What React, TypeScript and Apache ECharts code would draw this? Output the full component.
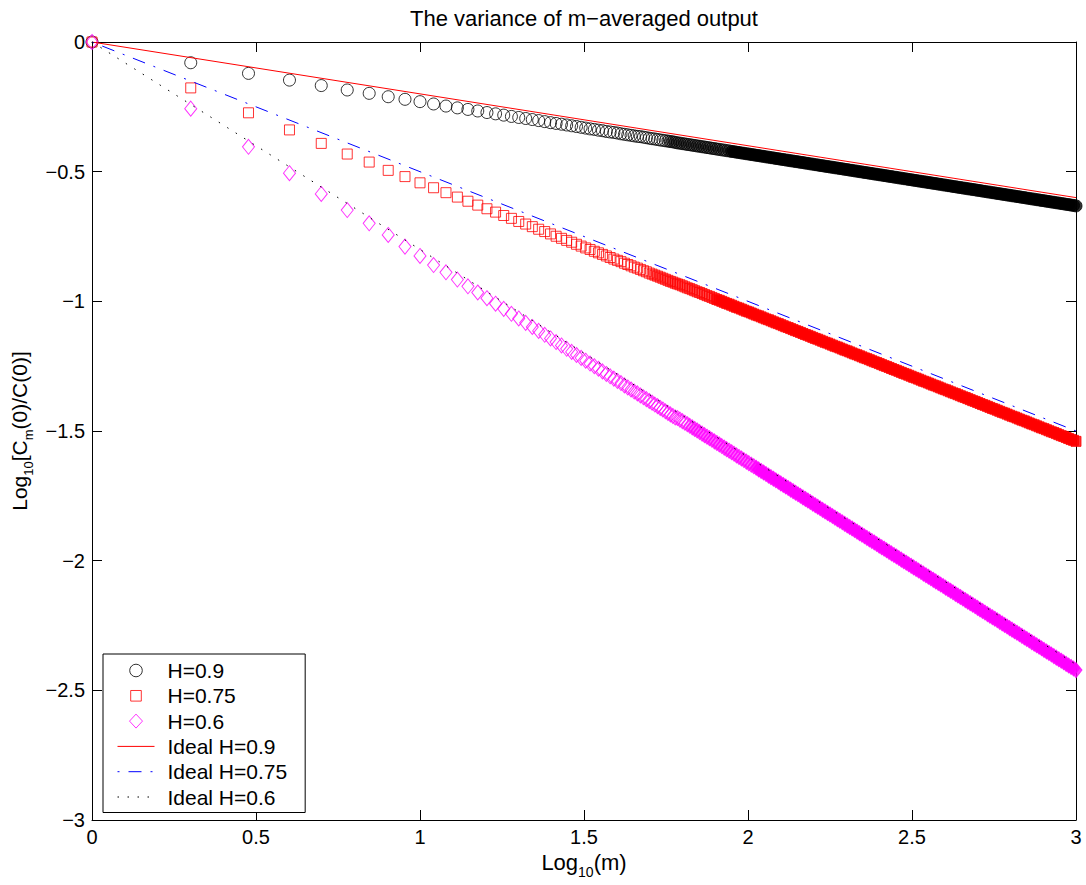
import React, { useEffect, useRef } from 'react';
import * as echarts from 'echarts';

const FONT = '"Liberation Sans", Arial, Helvetica, sans-serif';

// m = 1..60: markers that are still individually visible
const mNear: number[] = Array.from({ length: 60 }, (_, i) => i + 1);
// sampling positions along log10(m) where the markers merge into a band
const logFar: number[] = Array.from({ length: 163 }, (_, k) => 1.785 + 0.0075 * k);

const seriesNames = ['H=0.9', 'H=0.75', 'H=0.6', 'Ideal H=0.9', 'Ideal H=0.75', 'Ideal H=0.6'];

// H = 0.9 (circles)
const h09Near = [0, -0.080, -0.121, -0.147, -0.168, -0.185, -0.198, -0.211, -0.221, -0.230,
  -0.239, -0.247, -0.254, -0.260, -0.266, -0.272, -0.277, -0.282, -0.287, -0.291,
  -0.295, -0.299, -0.303, -0.307, -0.311, -0.314, -0.317, -0.320, -0.323, -0.326,
  -0.329, -0.332, -0.335, -0.337, -0.340, -0.342, -0.345, -0.347, -0.349, -0.351,
  -0.354, -0.356, -0.358, -0.360, -0.362, -0.364, -0.365, -0.367, -0.369, -0.371,
  -0.373, -0.374, -0.376, -0.378, -0.379, -0.381, -0.382, -0.384, -0.385, -0.387];
const h09Far = [-0.389, -0.390, -0.392, -0.393, -0.395, -0.396, -0.398, -0.399, -0.401, -0.402,
  -0.404, -0.405, -0.407, -0.408, -0.410, -0.411, -0.413, -0.414, -0.416, -0.417,
  -0.419, -0.420, -0.422, -0.423, -0.425, -0.426, -0.428, -0.429, -0.431, -0.432,
  -0.434, -0.435, -0.437, -0.438, -0.440, -0.441, -0.443, -0.444, -0.446, -0.447,
  -0.449, -0.450, -0.452, -0.453, -0.455, -0.456, -0.458, -0.459, -0.461, -0.462,
  -0.464, -0.465, -0.467, -0.468, -0.470, -0.471, -0.473, -0.474, -0.476, -0.477,
  -0.479, -0.480, -0.482, -0.483, -0.485, -0.486, -0.488, -0.489, -0.491, -0.492,
  -0.494, -0.495, -0.497, -0.498, -0.500, -0.501, -0.503, -0.504, -0.506, -0.507,
  -0.509, -0.510, -0.512, -0.513, -0.515, -0.516, -0.518, -0.519, -0.521, -0.522,
  -0.524, -0.525, -0.527, -0.528, -0.530, -0.531, -0.533, -0.534, -0.536, -0.537,
  -0.539, -0.540, -0.542, -0.543, -0.545, -0.546, -0.548, -0.549, -0.551, -0.552,
  -0.554, -0.555, -0.557, -0.558, -0.560, -0.561, -0.563, -0.564, -0.566, -0.567,
  -0.569, -0.570, -0.572, -0.573, -0.575, -0.576, -0.578, -0.579, -0.581, -0.582,
  -0.584, -0.585, -0.587, -0.588, -0.590, -0.591, -0.593, -0.594, -0.596, -0.597,
  -0.599, -0.600, -0.602, -0.603, -0.605, -0.606, -0.608, -0.609, -0.611, -0.612,
  -0.614, -0.615, -0.617, -0.618, -0.620, -0.621, -0.623, -0.624, -0.626, -0.627,
  -0.629, -0.630, -0.632];

// H = 0.75 (squares)
const h075Near = [0, -0.177, -0.273, -0.339, -0.391, -0.432, -0.463, -0.495, -0.519, -0.543,
  -0.562, -0.581, -0.598, -0.614, -0.629, -0.643, -0.656, -0.669, -0.680, -0.692,
  -0.702, -0.712, -0.722, -0.731, -0.740, -0.749, -0.757, -0.765, -0.772, -0.780,
  -0.787, -0.794, -0.800, -0.807, -0.813, -0.819, -0.825, -0.831, -0.837, -0.842,
  -0.847, -0.853, -0.858, -0.863, -0.868, -0.872, -0.877, -0.882, -0.886, -0.891,
  -0.895, -0.899, -0.903, -0.907, -0.911, -0.915, -0.919, -0.923, -0.926, -0.930];
const h075Far = [-0.933, -0.936, -0.940, -0.944, -0.948, -0.951, -0.955, -0.959,
  -0.963, -0.966, -0.970, -0.974, -0.978, -0.981, -0.985, -0.989,
  -0.993, -0.996, -1.000, -1.004, -1.008, -1.011, -1.015, -1.019,
  -1.023, -1.026, -1.030, -1.034, -1.038, -1.041, -1.045, -1.049,
  -1.053, -1.056, -1.060, -1.064, -1.068, -1.071, -1.075, -1.079,
  -1.083, -1.086, -1.090, -1.094, -1.098, -1.101, -1.105, -1.109,
  -1.113, -1.116, -1.120, -1.124, -1.128, -1.131, -1.135, -1.139,
  -1.143, -1.146, -1.150, -1.154, -1.158, -1.161, -1.165, -1.169,
  -1.173, -1.176, -1.180, -1.184, -1.188, -1.191, -1.195, -1.199,
  -1.203, -1.206, -1.210, -1.214, -1.218, -1.221, -1.225, -1.229,
  -1.233, -1.236, -1.240, -1.244, -1.248, -1.251, -1.255, -1.259,
  -1.263, -1.266, -1.270, -1.274, -1.278, -1.281, -1.285, -1.289,
  -1.293, -1.296, -1.300, -1.304, -1.308, -1.311, -1.315, -1.319,
  -1.323, -1.326, -1.330, -1.334, -1.338, -1.341, -1.345, -1.349,
  -1.353, -1.356, -1.360, -1.364, -1.368, -1.371, -1.375, -1.379,
  -1.383, -1.386, -1.390, -1.394, -1.398, -1.401, -1.405, -1.409,
  -1.413, -1.416, -1.420, -1.424, -1.428, -1.431, -1.435, -1.439,
  -1.443, -1.446, -1.450, -1.454, -1.458, -1.461, -1.465, -1.469,
  -1.473, -1.476, -1.480, -1.484, -1.488, -1.491, -1.495, -1.499,
  -1.503, -1.506, -1.510, -1.514, -1.518, -1.521, -1.525, -1.529,
  -1.533, -1.536, -1.540];

// H = 0.6 (diamonds)
const h06Near = [0, -0.257, -0.404, -0.506, -0.586, -0.648, -0.699, -0.744, -0.789, -0.825,
  -0.860, -0.888, -0.916, -0.942, -0.966, -0.988, -1.009, -1.029, -1.048, -1.066,
  -1.083, -1.099, -1.114, -1.129, -1.143, -1.157, -1.170, -1.183, -1.195, -1.207,
  -1.218, -1.229, -1.240, -1.250, -1.260, -1.270, -1.280, -1.289, -1.298, -1.307,
  -1.315, -1.324, -1.332, -1.340, -1.348, -1.355, -1.363, -1.370, -1.377, -1.384,
  -1.391, -1.398, -1.404, -1.411, -1.417, -1.424, -1.430, -1.436, -1.442, -1.448];
const h06Far = [-1.450, -1.456, -1.462, -1.468, -1.474, -1.480, -1.486, -1.492, -1.498, -1.504,
  -1.510, -1.516, -1.522, -1.528, -1.534, -1.540, -1.546, -1.552, -1.558, -1.564,
  -1.570, -1.576, -1.582, -1.588, -1.594, -1.600, -1.606, -1.612, -1.618, -1.624,
  -1.630, -1.636, -1.642, -1.648, -1.654, -1.660, -1.666, -1.672, -1.678, -1.684,
  -1.690, -1.696, -1.702, -1.708, -1.714, -1.720, -1.726, -1.732, -1.738, -1.744,
  -1.750, -1.756, -1.762, -1.768, -1.774, -1.780, -1.786, -1.792, -1.798, -1.804,
  -1.810, -1.816, -1.822, -1.828, -1.834, -1.840, -1.846, -1.852, -1.858, -1.864,
  -1.870, -1.876, -1.882, -1.888, -1.894, -1.900, -1.906, -1.912, -1.918, -1.924,
  -1.930, -1.936, -1.942, -1.948, -1.954, -1.960, -1.966, -1.972, -1.978, -1.984,
  -1.990, -1.996, -2.002, -2.008, -2.014, -2.020, -2.026, -2.032, -2.038, -2.044,
  -2.050, -2.056, -2.062, -2.068, -2.074, -2.080, -2.086, -2.092, -2.098, -2.104,
  -2.110, -2.116, -2.122, -2.128, -2.134, -2.140, -2.146, -2.152, -2.158, -2.164,
  -2.170, -2.176, -2.182, -2.188, -2.194, -2.200, -2.206, -2.212, -2.218, -2.224,
  -2.230, -2.236, -2.242, -2.248, -2.254, -2.260, -2.266, -2.272, -2.278, -2.284,
  -2.290, -2.296, -2.302, -2.308, -2.314, -2.320, -2.326, -2.332, -2.338, -2.344,
  -2.350, -2.356, -2.362, -2.368, -2.374, -2.380, -2.386, -2.392, -2.398, -2.404,
  -2.410, -2.416, -2.422];

// Ideal lines: log10 Cm(0)/C(0) = (2H-2) log10(m)
const idealX = [0, 3];
const ideal09 = [0, -0.6];
const ideal075 = [0, -1.5];
const ideal06 = [0, -2.4];

const logM = [...mNear.map((m) => Math.log10(m)), ...logFar];

// Hollow markers that overlap so densely that they print as a (half-)solid band.
const pts = (ys: number[], rgb: string, solidFrom: number) =>
  logM.map((x, i) => {
    if (x >= solidFrom) return { value: [x, ys[i]], itemStyle: { color: `rgb(${rgb})` } };
    if (x >= solidFrom - 0.2) return { value: [x, ys[i]], itemStyle: { color: `rgba(${rgb},0.35)` } };
    return [x, ys[i]];
  });
const linePts = (ys: number[]) => idealX.map((x, i) => [x, ys[i]]);

const minus = (v: number) => (v === 0 ? '0' : String(v).replace('-', '\u2212'));

const ICON_CIRCLE = 'path://M0,0M15,15M13.8,7.5A6.3,6.3,0,1,1,1.2,7.5A6.3,6.3,0,1,1,13.8,7.5Z';
const ICON_SQUARE = 'path://M0,0M15,15M2.2,2.2L12.8,2.2L12.8,12.8L2.2,12.8Z';
const ICON_DIAMOND = 'path://M0,0M15,15M7.5,0.5L14,7.5L7.5,14.5L1,7.5Z';

export default function App() {
  const ref = useRef<HTMLDivElement>(null);
  useEffect(() => {
    if (!ref.current) return;
    const chart = echarts.init(ref.current, null, { renderer: 'svg' });
    const axisCommon = {
      type: 'value' as const,
      axisLine: { show: true, onZero: false, lineStyle: { color: '#000', width: 1 } },
      axisTick: { show: true, inside: true, length: 10, lineStyle: { color: '#000', width: 1 } },
      splitLine: { show: false },
      minorTick: { show: false },
    };
    const labelStyle = { color: '#000', fontSize: 20, fontFamily: FONT };
    const richX = {
      a: { fontSize: 22, fontFamily: FONT, color: '#000' },
      s: { fontSize: 14, fontFamily: FONT, color: '#000', padding: [19, 0, 0, 0] },
    };
    const richY = {
      a: { fontSize: 21, fontFamily: FONT, color: '#000' },
      s: { fontSize: 13, fontFamily: FONT, color: '#000', padding: [18, 0, 0, 0] },
    };
    const hideSymbol = { color: 'rgba(0,0,0,0)', borderColor: 'rgba(0,0,0,0)', borderWidth: 0 };
    chart.setOption({
      animation: false,
      backgroundColor: '#fff',
      textStyle: { fontFamily: FONT },
      title: {
        text: 'The variance of m\u2212averaged output',
        left: 584,
        top: 7,
        padding: 0,
        textAlign: 'center',
        textStyle: { fontSize: 22, fontWeight: 'normal', color: '#000', fontFamily: FONT },
      },
      grid: { left: 92, right: 10, top: 42, bottom: 65, containLabel: false },
      xAxis: [
        {
          ...axisCommon,
          position: 'bottom',
          min: 0,
          max: 3,
          interval: 0.5,
          axisLabel: { ...labelStyle, margin: 7 },
          name: '{a|Log}{s|10}{a|(m)}',
          nameLocation: 'middle',
          nameGap: 17,
          nameTextStyle: { rich: richX },
        },
        {
          ...axisCommon,
          position: 'top',
          min: 0,
          max: 3,
          interval: 0.5,
          axisLabel: { show: false },
        },
      ],
      yAxis: [
        {
          ...axisCommon,
          position: 'left',
          min: -3,
          max: 0,
          interval: 0.5,
          axisLabel: { ...labelStyle, margin: 7, formatter: minus },
          name: '{a|Log}{s|10}{a|[C}{s|m}{a|(0)/C(0)]}',
          nameLocation: 'middle',
          nameGap: 43,
          nameRotate: 90,
          nameTextStyle: { rich: richY },
        },
        {
          ...axisCommon,
          position: 'right',
          min: -3,
          max: 0,
          interval: 0.5,
          axisLabel: { show: false },
        },
      ],
      legend: {
        data: [
          { name: seriesNames[0], icon: ICON_CIRCLE },
          { name: seriesNames[1], icon: ICON_SQUARE },
          { name: seriesNames[2], icon: ICON_DIAMOND },
          { name: seriesNames[3], itemStyle: hideSymbol },
          { name: seriesNames[4], itemStyle: hideSymbol },
          { name: seriesNames[5], itemStyle: hideSymbol },
        ],
        orient: 'vertical',
        left: 103,
        top: 654,
        padding: [6, 18, 5, 14],
        itemWidth: 37,
        itemHeight: 15,
        itemGap: 4.3,
        selectedMode: false,
        symbolKeepAspect: true,
        borderColor: '#000',
        borderWidth: 1,
        backgroundColor: '#fff',
        itemStyle: { borderWidth: 1 },
        lineStyle: { width: 1 },
        textStyle: { fontSize: 21, color: '#000', fontFamily: FONT, lineHeight: 20, padding: [0, 0, 0, 8] },
      },
      series: [
        {
          name: seriesNames[0],
          type: 'scatter',
          symbol: 'circle',
          symbolSize: 12,
          clip: false,
          itemStyle: { color: 'rgba(0,0,0,0)', borderColor: '#000000', borderWidth: 1 },
          data: pts([...h09Near, ...h09Far], '0,0,0', 1.95),
        },
        {
          name: seriesNames[1],
          type: 'scatter',
          symbol: 'rect',
          symbolSize: 10,
          clip: false,
          itemStyle: { color: 'rgba(0,0,0,0)', borderColor: '#ff0000', borderWidth: 1 },
          data: pts([...h075Near, ...h075Far], '255,0,0', 1.9),
        },
        {
          name: seriesNames[2],
          type: 'scatter',
          symbol: 'diamond',
          symbolSize: [12, 15],
          clip: false,
          itemStyle: { color: 'rgba(0,0,0,0)', borderColor: '#ff00ff', borderWidth: 1 },
          data: pts([...h06Near, ...h06Far], '255,0,255', 2.02),
        },
        {
          name: seriesNames[3],
          type: 'line',
          symbol: 'none',
          data: linePts(ideal09),
          itemStyle: { color: '#ff0000' },
          lineStyle: { color: '#ff0000', width: 1, type: 'solid' },
        },
        {
          name: seriesNames[4],
          type: 'line',
          symbol: 'none',
          data: linePts(ideal075),
          itemStyle: { color: '#0000ff' },
          lineStyle: { color: '#0000ff', width: 1, type: [13, 9, 2, 9], dashOffset: 22 },
        },
        {
          name: seriesNames[5],
          type: 'line',
          symbol: 'none',
          data: linePts(ideal06),
          itemStyle: { color: '#000000' },
          lineStyle: { color: '#000000', width: 1, type: [1.5, 8.5] },
        },
      ],
    });
    return () => chart.dispose();
  }, []);
  return (
    <div
      ref={ref}
      style={{ position: 'absolute', left: 0, top: 0, width: 1086, height: 885 }}
    />
  );
}
